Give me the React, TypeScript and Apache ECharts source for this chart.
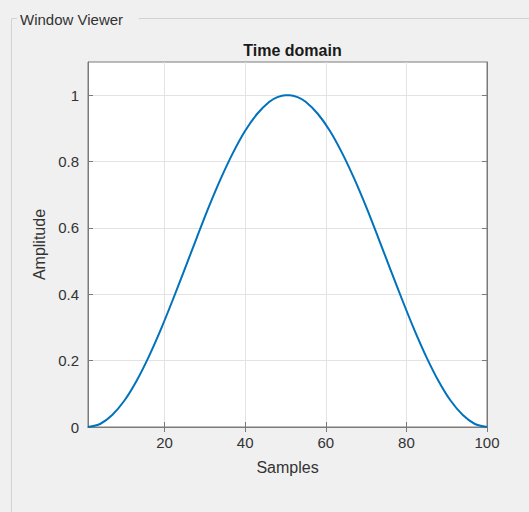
import React, { useEffect, useRef } from "react";
import * as echarts from "echarts";

// Samples and their amplitudes
const samples = [1, 4, 7, 10, 13, 16, 19, 22, 25, 28, 31, 34, 37, 40, 43, 46, 48, 50, 51, 53, 55, 58, 61, 64, 67, 70, 73, 76, 79, 82, 85, 88, 91, 94, 97, 100];
const amplitude = [0, 0.009, 0.036, 0.079, 0.138, 0.21, 0.292, 0.382, 0.476, 0.571, 0.664, 0.75, 0.827, 0.893, 0.944, 0.98, 0.994, 1.0, 1.0, 0.994, 0.98, 0.944, 0.893, 0.827, 0.75, 0.664, 0.571, 0.476, 0.382, 0.292, 0.21, 0.138, 0.079, 0.036, 0.009, 0];
const xTicks = [20, 40, 60, 80, 100];
const yTicks = [0, 0.2, 0.4, 0.6, 0.8, 1];

const FONT = "'Liberation Sans', Arial, sans-serif";
const AXIS_COLOR = "#7a7a7a";
const LABEL_COLOR = "#333333";
const GRID_COLOR = "#e3e3e3";

export default function App() {
  const ref = useRef<HTMLDivElement>(null);
  useEffect(() => {
    document.body.style.margin = "0";
    document.body.style.background = "#f0f0f0";
    const chart = echarts.init(ref.current!, null, { renderer: "svg" });
    const baseX = {
      type: "value",
      min: 1,
      max: 100,
      axisLine: { show: true, lineStyle: { color: AXIS_COLOR, width: 1 } },
      axisTick: { show: true, inside: true, length: 5, customValues: xTicks, lineStyle: { color: AXIS_COLOR } },
      splitLine: { show: false },
    };
    const baseY = {
      type: "value",
      min: 0,
      max: 1.1,
      axisLine: { show: true, lineStyle: { color: AXIS_COLOR, width: 1 } },
      axisTick: { show: true, inside: true, length: 5, customValues: yTicks, lineStyle: { color: AXIS_COLOR } },
      splitLine: { show: false },
    };
    chart.setOption({
      animation: false,
      backgroundColor: "#f0f0f0",
      textStyle: { fontFamily: FONT },
      title: {
        text: "Time domain",
        left: 287.5,
        textAlign: "center",
        top: 37,
        textStyle: { fontFamily: FONT, fontSize: 16, fontWeight: "bold", color: "#1a1a1a" },
      },
      grid: {
        left: 88,
        top: 62,
        width: 399,
        height: 365,
        show: true,
        backgroundColor: "#ffffff",
        borderColor: AXIS_COLOR,
        borderWidth: 1,
      },
      xAxis: [
        {
          ...baseX,
          position: "bottom",
          name: "Samples",
          nameLocation: "middle",
          nameGap: 32,
          nameTextStyle: { fontFamily: FONT, fontSize: 16, color: LABEL_COLOR },
          axisLabel: { show: true, customValues: xTicks, margin: 8, fontFamily: FONT, fontSize: 15, color: LABEL_COLOR },
        },
        { ...baseX, position: "top", axisLabel: { show: false } },
      ],
      yAxis: [
        {
          ...baseY,
          position: "left",
          name: "Amplitude",
          nameLocation: "middle",
          nameGap: 37,
          nameRotate: 90,
          nameTextStyle: { fontFamily: FONT, fontSize: 16, color: LABEL_COLOR },
          axisLabel: {
            show: true,
            customValues: yTicks,
            margin: 9,
            fontFamily: FONT,
            fontSize: 15,
            color: LABEL_COLOR,
            formatter: (v: number) => String(v),
          },
        },
        { ...baseY, position: "right", axisLabel: { show: false } },
      ],
      graphic: [
        { type: "line", shape: { x1: 11.5, y1: 18.5, x2: 17, y2: 18.5 }, style: { stroke: "#d2d2d2", lineWidth: 1 } },
        { type: "line", shape: { x1: 139, y1: 18.5, x2: 529, y2: 18.5 }, style: { stroke: "#d2d2d2", lineWidth: 1 } },
        { type: "line", shape: { x1: 11.5, y1: 18.5, x2: 11.5, y2: 512 }, style: { stroke: "#d2d2d2", lineWidth: 1 } },
        {
          type: "text",
          x: 20,
          y: 19,
          style: { text: "Window Viewer", fontFamily: FONT, fontSize: 15, fill: "#333333", verticalAlign: "middle", align: "left" },
        },
      ],
      series: [
        {
          type: "line",
          xAxisIndex: 0,
          yAxisIndex: 0,
          data: samples.map((s, i) => [s, amplitude[i]]),
          smooth: 0.3,
          showSymbol: false,
          lineStyle: { color: "#0072BD", width: 2 },
          markLine: {
            silent: true,
            symbol: "none",
            label: { show: false },
            lineStyle: { color: GRID_COLOR, width: 1, type: "solid" },
            z: 0,
            data: [
              ...xTicks.slice(0, -1).map((v) => ({ xAxis: v })),
              ...yTicks.slice(1).map((v) => ({ yAxis: v })),
            ],
          },
        },
      ],
    });
    return () => chart.dispose();
  }, []);
  return <div ref={ref} style={{ width: 529, height: 512 }} />;
}
